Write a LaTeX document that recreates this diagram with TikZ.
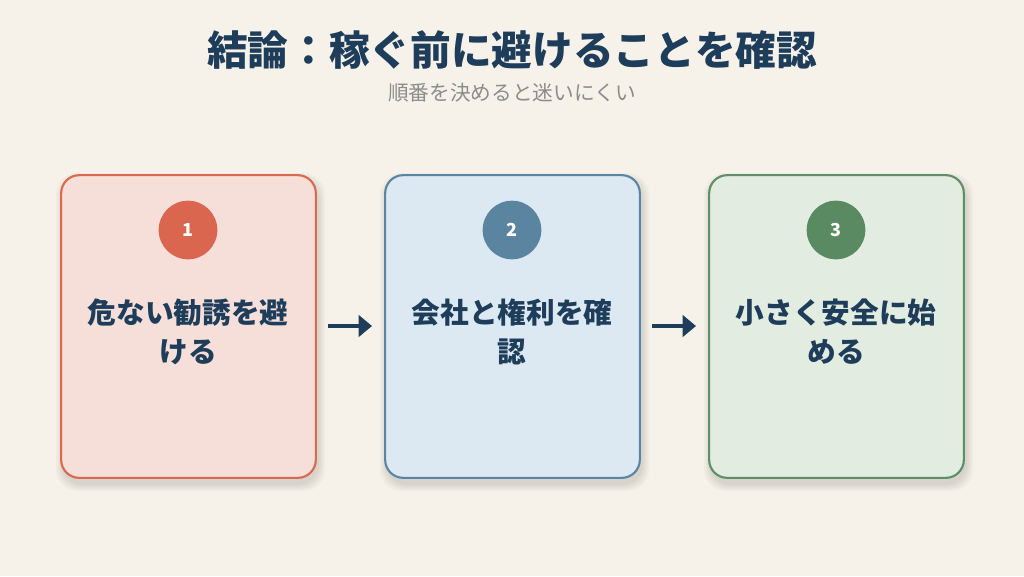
\documentclass[tikz,border=0pt]{standalone}
\usepackage{fontspec}
\setmainfont{Noto Sans CJK JP}
\usetikzlibrary{arrows.meta}
\definecolor{bg}{HTML}{F6F2EA}
\definecolor{navy}{HTML}{1E3D5A}
\definecolor{subgray}{HTML}{8C8C8C}
\definecolor{fillA}{HTML}{F6DFD8}
\definecolor{lineA}{HTML}{D9694F}
\definecolor{dotA}{HTML}{DB6650}
\definecolor{fillB}{HTML}{DDE9F2}
\definecolor{lineB}{HTML}{5B86A3}
\definecolor{dotB}{HTML}{5A84A0}
\definecolor{fillC}{HTML}{E3ECE0}
\definecolor{lineC}{HTML}{5E8F68}
\definecolor{dotC}{HTML}{5A8A62}
\tikzset{
  card/.style={draw=#1, line width=1.6pt, rounded corners=13.5pt, minimum width=191pt, minimum height=227pt, inner sep=0pt},
  dot/.style={circle, fill=#1, minimum size=44pt, inner sep=0pt, text=white, font=\bfseries\fontsize{13.5}{16}\selectfont},
  cardtext/.style={text=navy, align=center, font=\bfseries\fontsize{21.5}{29.25}\selectfont},
  flow/.style={draw=navy, line width=3.4pt, -{Triangle[length=10pt,width=16pt]}},
  shadowbox/.style={fill=black, fill opacity=0.022, rounded corners=16pt}
}
\begin{document}
\begin{tikzpicture}[x=0.75pt,y=-0.75pt]
\fill[bg] (0,0) rectangle (1024,576);
\useasboundingbox (0,0) rectangle (1024,576);
% title
\node (title) at (512,50) {\color{navy}\bfseries\fontsize{30.5}{36}\selectfont 結論：稼ぐ前に避けることを確認};
\node (sub) at (512,93) {\color{subgray}\fontsize{15.5}{18}\selectfont 順番を決めると迷いにくい};
% shadows
\foreach \x in {61,385,709}{
  \foreach \d in {2,5,8,11,14}{
    \fill[shadowbox] (\x+2-\d/2,175+5-\d/2) rectangle (\x+255+2+\d/2,478+6+\d/2);
  }
}
% cards
\node[card=lineA, fill=fillA] (c1) at (188.5,326.5) {};
\node[card=lineB, fill=fillB] (c2) at (512.5,326.5) {};
\node[card=lineC, fill=fillC] (c3) at (836.5,326.5) {};
% numbers
\node[dot=dotA] (n1) at (188,230) {1};
\node[dot=dotB] (n2) at (512,230) {2};
\node[dot=dotC] (n3) at (836,230) {3};
% texts
\node[cardtext] (t1) at (188,332) {危ない勧誘を避\\ける};
\node[cardtext] (t2) at (512,332) {会社と権利を確\\認};
\node[cardtext] (t3) at (836,332) {小さく安全に始\\める};
% arrows
\coordinate (a1s) at (328,326);
\coordinate (a1e) at (372,326);
\coordinate (a2s) at (652,326);
\coordinate (a2e) at (696,326);
\draw[flow] (a1s) -- (a1e);
\draw[flow] (a2s) -- (a2e);
\end{tikzpicture}
\end{document}
